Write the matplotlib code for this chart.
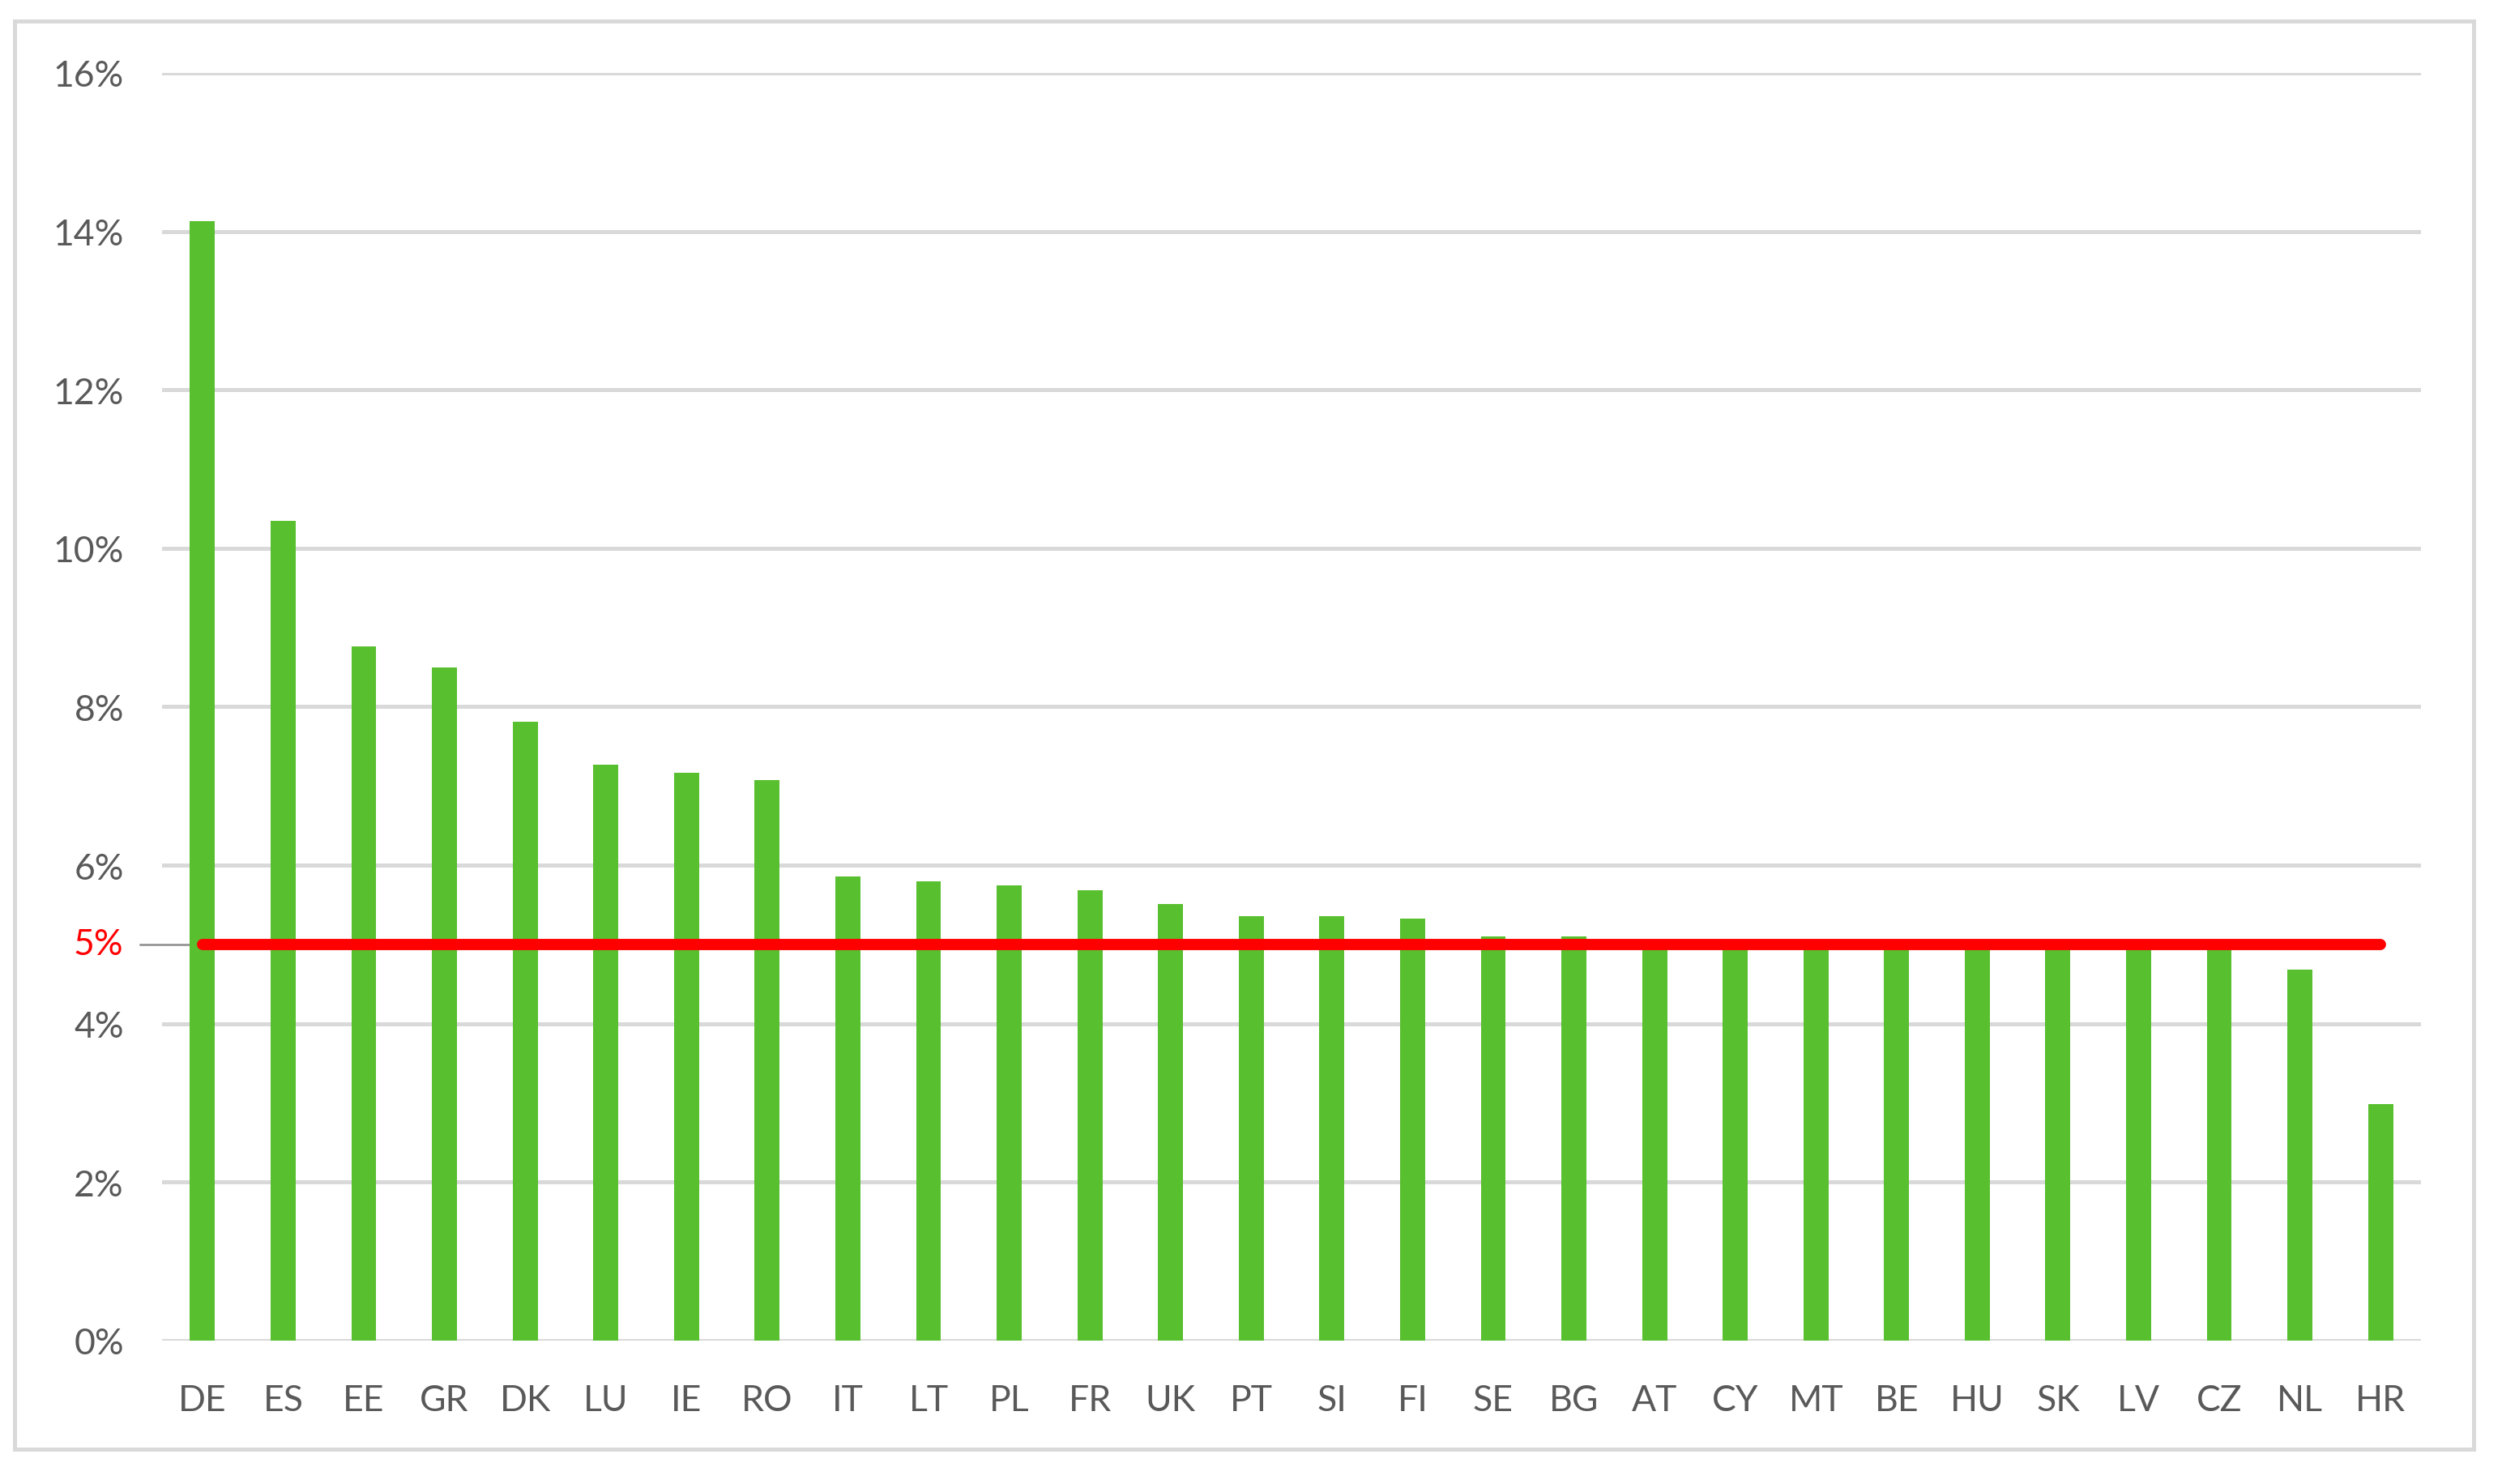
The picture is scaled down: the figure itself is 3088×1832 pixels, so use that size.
import matplotlib.pyplot as plt
from matplotlib.patches import Rectangle

# Country codes and shares (%)
countries = ['DE', 'ES', 'EE', 'GR', 'DK', 'LU', 'IE', 'RO', 'IT', 'LT',
             'PL', 'FR', 'UK', 'PT', 'SI', 'FI', 'SE', 'BG', 'AT', 'CY',
             'MT', 'BE', 'HU', 'SK', 'LV', 'CZ', 'NL', 'HR']
shares = [14.13, 10.35, 8.76, 8.50, 7.81, 7.27, 7.17, 7.07, 5.86, 5.80,
          5.74, 5.68, 5.51, 5.36, 5.36, 5.33, 5.10, 5.10, 5.00, 5.00,
          5.00, 5.00, 5.00, 5.00, 5.00, 5.00, 4.68, 2.98]
threshold = 5.0
yticks = [0, 2, 4, 6, 8, 10, 12, 14, 16]

plt.rcParams['font.family'] = ['Lato', 'DejaVu Sans']

fig = plt.figure(figsize=(15.44, 9.165), dpi=200)
ax = fig.add_axes([0.0648, 0.0966, 0.9028, 0.8538])

x = list(range(len(countries)))
ax.bar(x, shares, width=0.31, color='#58BF2F', zorder=2)

# threshold line across all bars
ax.plot([x[0], x[-1]], [threshold, threshold], color='#FF0000', lw=5,
        solid_capstyle='round', zorder=3)
# small grey marker for the 5% label
ax.plot([-0.77, 0], [threshold, threshold], color='#8C8C8C', lw=0.9,
        clip_on=False, zorder=1)

ax.set_xlim(-0.5, len(countries) - 0.5)
ax.set_ylim(0, 16)
ax.set_yticks(yticks)
ax.set_yticklabels([f'{t}%' for t in yticks])
ax.set_xticks(x)
ax.set_xticklabels(countries)
ax.tick_params(axis='both', length=0, labelsize=16, labelcolor='#595959')
ax.tick_params(axis='y', pad=17)
ax.tick_params(axis='x', pad=19)

ax.text(-0.5, threshold, '5%', transform=ax.transData, color='#FF0000',
        fontsize=16, ha='right', va='center')
# push the 5% label to the same spot as the other tick labels
ax.texts[-1].set_position((-0.5 - 48 / 99.6, threshold))

ax.grid(axis='y', color='#D9D9D9', lw=1.8, zorder=0)
for s in ax.spines.values():
    s.set_visible(False)

# outer chart frame
fig.patches.append(Rectangle((18 / 3088, 1 - 1790 / 1833), 3035 / 3088, 1763 / 1833,
                             transform=fig.transFigure, fill=False,
                             edgecolor='#D9D9D9', lw=1.8))

fig.savefig('out.png', dpi=200, facecolor='white')
